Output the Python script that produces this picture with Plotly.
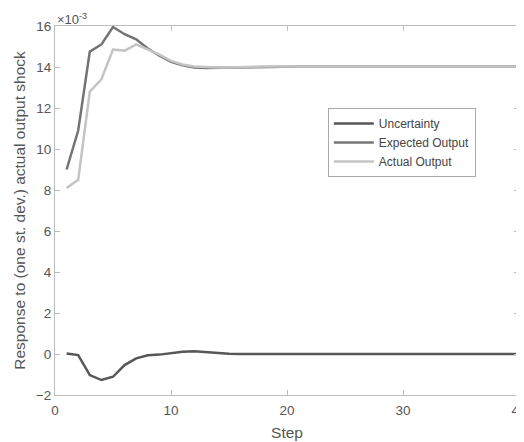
import plotly.graph_objects as go

steps = list(range(1, 41))

uncertainty = [0.03, -0.05, -1.03, -1.27, -1.11, -0.54, -0.21, -0.06, -0.03, 0.04,
               0.11, 0.13, 0.09, 0.04, 0.01] + [0.0] * 25
expected = [9.0, 10.9, 14.75, 15.1, 15.95, 15.6, 15.35, 14.9, 14.55, 14.25,
            14.08, 13.98, 13.95, 13.96, 13.98, 14.0, 14.01, 14.02] + [14.02] * 22
actual = [8.1, 8.5, 12.8, 13.4, 14.85, 14.8, 15.1, 14.85, 14.6, 14.3,
          14.12, 14.02, 13.98, 13.97, 13.98, 14.0, 14.01, 14.02] + [14.02] * 22

series = [
    ("Uncertainty", uncertainty, "#575757"),
    ("Expected Output", expected, "#747474"),
    ("Actual Output", actual, "#c4c4c4"),
]

fig = go.Figure()
for name, vals, col in series:
    fig.add_trace(go.Scatter(x=steps, y=vals, mode="lines", name=name,
                             line=dict(color=col, width=2.5)))

axis_common = dict(showgrid=False, zeroline=False, showline=True, linecolor="#bdbdbd",
                   linewidth=1, mirror="ticks", ticks="inside", ticklen=5,
                   tickcolor="#bdbdbd", tickfont=dict(size=13.5, color="#555555"),
                   title_font=dict(size=15.5, color="#555555"), automargin=False)

# page body has an 8px margin, so the figure is sized to fit the 524x442 window
fig.update_layout(
    width=516, height=434,
    margin=dict(l=47, r=5, t=18, b=47),
    paper_bgcolor="white", plot_bgcolor="white",
    font=dict(family="Liberation Sans, Arial, sans-serif", color="#555555"),
    xaxis=dict(range=[0, 40], tickvals=[0, 10, 20, 30, 40],
               title=dict(text="Step", standoff=9), ticklabelstandoff=3,
               ticklabeloverflow="allow", **axis_common),
    yaxis=dict(range=[-2, 16], tickvals=[-2, 0, 2, 4, 6, 8, 10, 12, 14, 16],
               title=dict(text="Response to (one st. dev.) actual output shock", standoff=6),
               **axis_common),
    legend=dict(x=0.588, y=0.778, xanchor="left", yanchor="top",
                bgcolor="white", bordercolor="#aaaaaa", borderwidth=1,
                font=dict(size=12, color="#444444"), tracegroupgap=0,
                itemwidth=40),
    showlegend=True,
)

fig.add_annotation(text="×10<sup>-3</sup>", xref="paper", yref="paper", x=0.0, y=1.0,
                   xanchor="left", yanchor="bottom", showarrow=False, yshift=-3,
                   font=dict(size=13, color="#555555"))

fig.write_html("out.html")
